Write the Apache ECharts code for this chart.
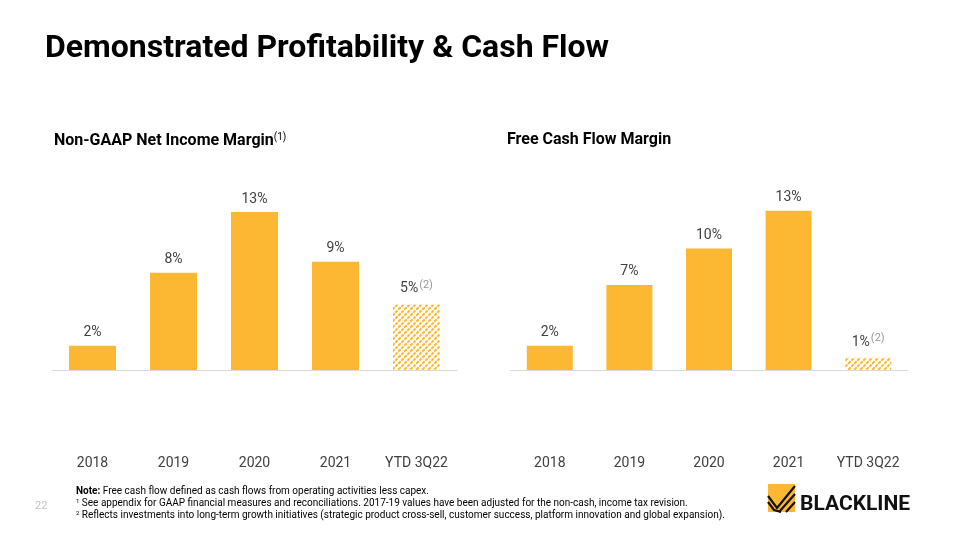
<!DOCTYPE html>
<html><head><meta charset="utf-8">
<script src="https://cdn.jsdelivr.net/npm/echarts@6/dist/echarts.min.js"></script>
<style>html,body{margin:0;padding:0;background:#fff}#c{width:960px;height:540px}</style>
</head><body><div id="c"></div>
<script>
const categories = ['2018', '2019', '2020', '2021', 'YTD 3Q22'];
const netIncomeMargin = [2.0, 8.0, 13.0, 8.9, 5.4];
const netIncomeLabels = ['2%', '8%', '13%', '9%', '5%'];
const fcfMargin = [2.0, 7.0, 10.0, 13.1, 1.0];
const fcfLabels = ['2%', '7%', '10%', '13%', '1%'];
const footnoteFlags = [null, null, null, null, '(2)'];

const ORANGE = '#FDB833';
const FONT = 'Roboto, "Noto Sans", sans-serif';
const NOTE = '#ababab';

function hatch() {
  const c = document.createElement('canvas');
  c.width = 6; c.height = 6;
  const g = c.getContext('2d');
  g.fillStyle = '#fff'; g.fillRect(0, 0, 6, 6);
  g.strokeStyle = ORANGE; g.lineWidth = 2.0;
  g.setLineDash([3.6, 0.9]);
  g.beginPath();
  g.moveTo(-1, 7); g.lineTo(7, -1);
  g.moveTo(-4, 4); g.lineTo(4, -4);
  g.moveTo(2, 10); g.lineTo(10, 2);
  g.stroke();
  return c;
}
const pattern = { image: hatch(), repeat: 'repeat' };

function buildData(values, labels) {
  return values.map((v, i) => {
    const last = i === values.length - 1;
    const txt = footnoteFlags[i] ? '{v|' + labels[i] + '}{s|' + footnoteFlags[i] + '}' : '{v|' + labels[i] + '}';
    return {
      value: v,
      itemStyle: last ? { color: pattern } : { color: ORANGE },
      label: { formatter: txt }
    };
  });
}

const labelCfg = {
  show: true, position: 'top', distance: 6,
  rich: {
    v: { fontFamily: FONT, fontSize: 14, color: '#404040' },
    s: { fontFamily: FONT, fontSize: 11, color: '#9a9a9a', verticalAlign: 'top', padding: [0, 0, 8, 1] }
  }
};

function xAx(gi) {
  return {
    type: 'category', gridIndex: gi, data: categories,
    axisLine: { lineStyle: { color: '#d9d9d9', width: 1 } },
    axisTick: { show: false },
    axisLabel: { interval: 0, margin: 86, fontFamily: FONT, fontSize: 14, color: '#404040' }
  };
}
function yAx(gi) {
  return { type: 'value', gridIndex: gi, min: 0, max: 20, show: false, splitLine: { show: false } };
}

const chart = echarts.init(document.getElementById('c'), null, { renderer: 'canvas' });
chart.setOption({
  animation: false,
  backgroundColor: '#fff',
  grid: [
    { left: 52, width: 405, top: 127, height: 243 },
    { left: 510, width: 398, top: 127, height: 243 }
  ],
  xAxis: [xAx(0), xAx(1)],
  yAxis: [yAx(0), yAx(1)],
  series: [
    { type: 'bar', xAxisIndex: 0, yAxisIndex: 0, barWidth: 47, data: buildData(netIncomeMargin, netIncomeLabels), label: labelCfg },
    { type: 'bar', xAxisIndex: 1, yAxisIndex: 1, barWidth: 46, data: buildData(fcfMargin, fcfLabels), label: labelCfg }
  ],
  graphic: [
    { type: 'text', left: 45, top: 33, style: { text: 'Demonstrated Profitability & Cash Flow', fontFamily: FONT, fontWeight: 'bold', fontSize: 32, fill: '#000' } },
    { type: 'text', left: 54, top: 132, style: {
      text: '{t|Non-GAAP Net Income Margin}{s|(1)}',
      rich: { t: { fontFamily: FONT, fontWeight: 'bold', fontSize: 16, color: '#000' },
              s: { fontFamily: FONT, fontSize: 10, color: '#333', verticalAlign: 'top', padding: [0, 0, 7, 0] } } } },
    { type: 'text', left: 507, top: 132, style: { text: 'Free Cash Flow Margin', fontFamily: FONT, fontWeight: 'bold', fontSize: 16, fill: '#000' } },
    { type: 'text', left: 35, top: 501, style: { text: '22', fontFamily: FONT, fontSize: 11, fill: '#c0c0c0' } },
    { type: 'text', left: 76, top: 486, style: {
      text: '{b|Note:}{n| Free cash flow defined as cash flows from operating activities less capex.}',
      rich: { b: { fontFamily: FONT, fontWeight: 'bold', fontSize: 10, color: NOTE }, n: { fontFamily: FONT, fontSize: 10, color: NOTE } } } },
    { type: 'text', left: 76, top: 498, style: {
      text: '{s|1}{n| See appendix for GAAP financial measures and reconciliations. 2017-19 values have been adjusted for the non-cash, income tax revision.}',
      rich: { s: { fontFamily: FONT, fontSize: 6, color: NOTE, verticalAlign: 'top' }, n: { fontFamily: FONT, fontSize: 10, color: NOTE } } } },
    { type: 'text', left: 76, top: 510, style: {
      text: '{s|2}{n| Reflects investments into long-term growth initiatives (strategic product cross-sell, customer success, platform innovation and global expansion).}',
      rich: { s: { fontFamily: FONT, fontSize: 6, color: NOTE, verticalAlign: 'top' }, n: { fontFamily: FONT, fontSize: 10, color: NOTE } } } },
    { type: 'rect', shape: { x: 768, y: 484, width: 27, height: 28 }, style: { fill: '#FDB833' } },
    { type: 'polyline', shape: { points: [[768, 496], [777, 508], [795, 486]] }, style: { stroke: '#111', lineWidth: 2.2, fill: null } },
    { type: 'polyline', shape: { points: [[768, 502], [774, 510], [781, 512]] }, style: { stroke: '#111', lineWidth: 2.2, fill: null } },
    { type: 'polyline', shape: { points: [[779, 512], [795, 494]] }, style: { stroke: '#111', lineWidth: 2.2, fill: null } },
    { type: 'polyline', shape: { points: [[786, 512], [795, 502]] }, style: { stroke: '#111', lineWidth: 2.2, fill: null } },
    { type: 'text', left: 800, top: 494, style: { text: 'BLACKLINE', fontFamily: FONT, fontWeight: 'bold', fontSize: 21, fill: '#111' } }
  ]
});
</script></body></html>
